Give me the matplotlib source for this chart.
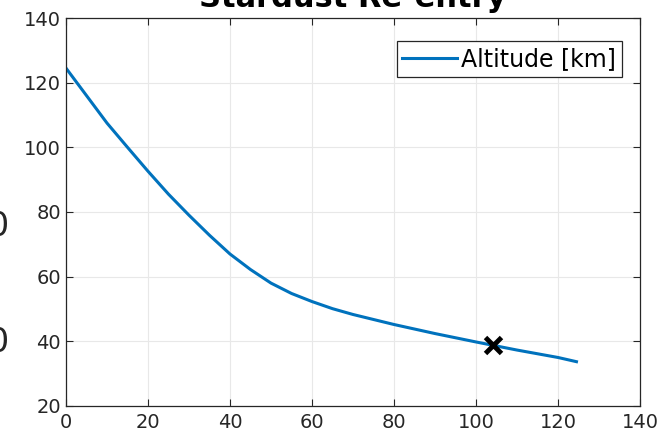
import matplotlib.pyplot as plt

# Stardust re-entry altitude profile
time_s = [0, 5, 10, 15, 20, 25, 30, 35, 40, 45, 50, 55, 60, 65, 70, 80, 90,
          100, 110, 120, 124.5]
altitude_km = [124.5, 116.0, 107.5, 100.0, 92.6, 85.5, 79.0, 72.8, 67.0,
               62.2, 58.0, 54.8, 52.3, 50.1, 48.3, 45.2, 42.4, 39.8, 37.3,
               35.0, 33.7]

marker_x = [104.2]
marker_y = [38.8]

x_ticks = [0, 20, 40, 60, 80, 100, 120, 140]
y_ticks = [20, 40, 60, 80, 100, 120, 140]

dark = '#262626'

fig = plt.figure(figsize=(6.62, 4.38), dpi=100)
ax = fig.add_axes([0.0997, 0.0731, 0.8671, 0.8858])

ax.plot(time_s, altitude_km, color='#0072BD', linewidth=2.2, label='Altitude [km]')
ax.plot(marker_x, marker_y, linestyle='none', marker='x', color='black',
        markersize=12, markeredgewidth=3.5)

ax.set_xlim(0, 140)
ax.set_ylim(20, 140)
ax.set_xticks(x_ticks)
ax.set_yticks(y_ticks)
ax.grid(True, color='#e8e8e8', linewidth=0.8)
ax.set_axisbelow(True)

ax.tick_params(direction='in', top=True, right=True, length=5, width=0.8,
               color=dark, labelcolor=dark, labelsize=14)
ax.tick_params(axis='x', pad=5)
for spine in ax.spines.values():
    spine.set_color(dark)
    spine.set_linewidth(0.9)

leg = ax.legend(loc='upper right', bbox_to_anchor=(0.969, 0.94), fontsize=17,
                fancybox=False, framealpha=1, edgecolor=dark, handlelength=2.3,
                handletextpad=0.2, borderpad=0.25, borderaxespad=0)
leg.get_frame().set_linewidth(0.9)

# title sits partly above the crop
fig.text(353 / 662, 431 / 438, 'Stardust Re-entry', ha='center', va='baseline',
         fontsize=22, fontweight='bold', color='black')

# leftover labels from a neighbouring plot, cut by the left edge
fig.text(9 / 662, 1 - 227 / 438, '0', ha='right', va='center', fontsize=24, color=dark)
fig.text(9 / 662, 1 - 343 / 438, '0', ha='right', va='center', fontsize=24, color=dark)

fig.savefig('out.png', dpi=100)
